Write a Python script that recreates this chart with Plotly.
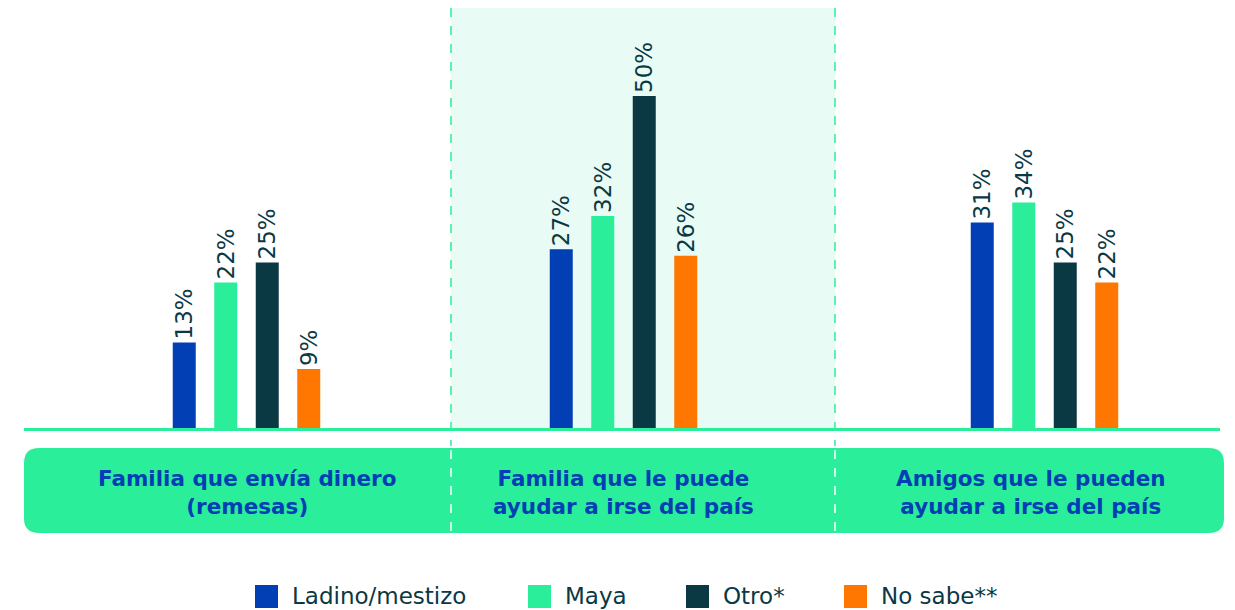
import plotly.graph_objects as go

categories = ["Familia que envía dinero<br>(remesas)",
              "Familia que le puede<br>ayudar a irse del país",
              "Amigos que le pueden<br>ayudar a irse del país"]
series_names = ["Ladino/mestizo", "Maya", "Otro*", "No sabe**"]
ladino = [13, 27, 31]
maya = [22, 32, 34]
otro = [25, 50, 25]
nosabe = [9, 26, 22]
values = [ladino, maya, otro, nosabe]
colors = ["#023EB4", "#2BEE9B", "#0A3843", "#FF7700"]

W, H = 1235, 610
OFF = 8          # page body margin
BASE = 429       # baseline pixel (page coords)
PLOT_H = BASE - OFF
group_x = [246.5, 623.5, 1044.5]
step = 41.5
bw = 23
FONT = "DejaVu Sans"

def py(y):
    return (BASE - y) / PLOT_H

fig = go.Figure()
for i, (name, vals, col) in enumerate(zip(series_names, values, colors)):
    fig.add_trace(go.Bar(
        x=group_x, y=vals, name=name, marker_color=col, marker_line_width=0,
        width=bw, offset=-bw / 2 + (i - 1.5) * step,
        text=[f"{v}%" for v in vals], textposition="outside", textangle=-90,
        constraintext="none", cliponaxis=False,
        textfont=dict(family=FONT, size=23, color="#0A3843"),
        showlegend=False,
    ))

shapes = []
shapes.append(dict(type="rect", xref="x", yref="paper", x0=451, x1=835,
                   y0=py(430), y1=py(8), fillcolor="#E8FBF4", line_width=0, layer="below"))
x0, x1, y0, y1, r = 24, 1224, 448, 533, 15
path = (f"M {x0+r},{py(y0)} L {x1-r},{py(y0)} Q {x1},{py(y0)} {x1},{py(y0+r)} "
        f"L {x1},{py(y1-r)} Q {x1},{py(y1)} {x1-r},{py(y1)} L {x0+r},{py(y1)} "
        f"Q {x0},{py(y1)} {x0},{py(y1-r)} L {x0},{py(y0+r)} Q {x0},{py(y0)} {x0+r},{py(y0)} Z")
shapes.append(dict(type="path", xref="x", yref="paper", path=path,
                   fillcolor="#2BEE9B", line_width=0, layer="above"))
for xs in (451, 835):
    shapes.append(dict(type="line", xref="x", yref="paper", x0=xs, x1=xs, y0=py(8), y1=py(446),
                       line=dict(color="#2BEE9B", width=1.5, dash="dash"), layer="below"))
    shapes.append(dict(type="line", xref="x", yref="paper", x0=xs, x1=xs, y0=py(450), y1=py(532),
                       line=dict(color="#FFFFFF", width=1.5, dash="dash"), layer="above"))
shapes.append(dict(type="line", xref="x", yref="paper", x0=24, x1=1220, y0=py(429.5), y1=py(429.5),
                   line=dict(color="#2BEE9B", width=3), layer="above"))

annotations = []
label_x = [247, 623, 1031]
for cx, cat in zip(label_x, categories):
    annotations.append(dict(x=cx, y=py(492), xref="x", yref="paper", text=f"<b>{cat}</b>",
                            showarrow=False, xanchor="center", yanchor="middle",
                            font=dict(family=FONT, size=21.5, color="#023EB4"),
                            align="center"))
leg_x = [255, 528, 686, 844]
for lx, name, col in zip(leg_x, series_names, colors):
    shapes.append(dict(type="rect", xref="x", yref="paper", x0=lx, x1=lx + 23,
                       y0=py(608), y1=py(585), fillcolor=col, line_width=0))
    annotations.append(dict(x=lx + 35, y=py(596), xref="x", yref="paper", text=name,
                            showarrow=False, xanchor="left", yanchor="middle",
                            font=dict(family=FONT, size=23, color="#0A3843")))

fig.update_layout(
    width=W, height=H, margin=dict(l=0, r=0, t=0, b=H - PLOT_H),
    paper_bgcolor="white", plot_bgcolor="rgba(0,0,0,0)",
    barmode="overlay", shapes=shapes, annotations=annotations,
    xaxis=dict(range=[OFF, W + OFF], visible=False, fixedrange=True),
    yaxis=dict(range=[0, PLOT_H / 6.66], visible=False, fixedrange=True),
    showlegend=False,
)
fig.write_html("out.html")
